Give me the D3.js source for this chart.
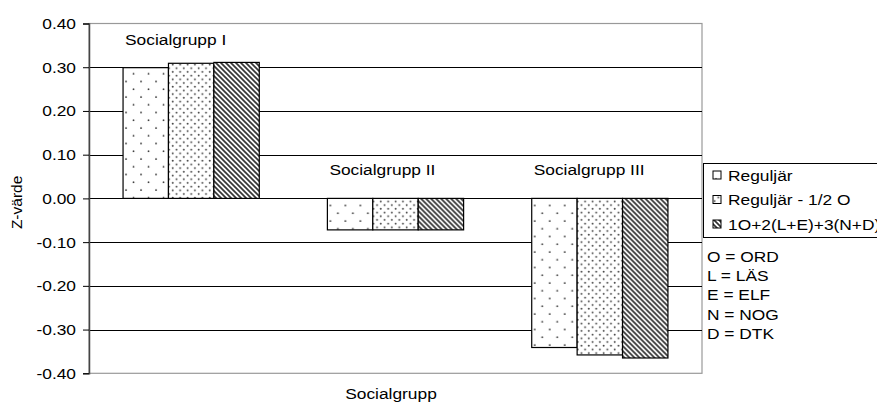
<!DOCTYPE html>
<html>
<head>
<meta charset="utf-8">
<script src="https://cdn.jsdelivr.net/npm/d3@7"></script>
<style>
  body { margin: 0; background: #fff; overflow: hidden; }
  svg { display: block; font-family: "Liberation Sans", Arial, sans-serif; }
</style>
</head>
<body>
<script>
const groups = ["Socialgrupp I", "Socialgrupp II", "Socialgrupp III"];
const series = ["Reguljär", "Reguljär - 1/2 O", "1O+2(L+E)+3(N+D)"];
const regular = [0.299, -0.072, -0.341];
const regularHalfO = [0.309, -0.072, -0.358];
const weighted = [0.311, -0.072, -0.365];
const labelValues = [0.35, 0.053, 0.053];
const yTicks = [0.4, 0.3, 0.2, 0.1, 0, -0.1, -0.2, -0.3, -0.4];
const notes = ["O = ORD", "L = LÄS", "E = ELF", "N = NOG", "D = DTK"];

const W = 877, H = 412;
const plotL = 89, plotR = 702, plotT = 23.5, plotB = 373.3;
const fs = 15.5, sx = 1.12;   // text looks a bit wide in the original
const values = [regular, regularHalfO, weighted];

const svg = d3.select("body").append("svg").attr("width", W).attr("height", H);
const defs = svg.append("defs");

// places a text with the horizontal stretch
let wideText = (sel, x, y) => sel.attr("transform", `translate(${x},${y}) scale(${sx},1)`)
  .attr("font-size", fs);

// fill patterns
let p1 = defs.append("pattern").attr("id", "pat0").attr("patternUnits", "userSpaceOnUse")
  .attr("width", 15).attr("height", 15.5);
p1.append("rect").attr("width", 15).attr("height", 15.5).attr("fill", "#fff");
p1.append("circle").attr("cx", 3).attr("cy", 4).attr("r", 0.9).attr("fill", "#333");
p1.append("circle").attr("cx", 10.5).attr("cy", 11.75).attr("r", 0.9).attr("fill", "#333");

let p2 = defs.append("pattern").attr("id", "pat1").attr("patternUnits", "userSpaceOnUse")
  .attr("width", 7.4).attr("height", 7.4);
p2.append("rect").attr("width", 7.4).attr("height", 7.4).attr("fill", "#fff");
p2.append("circle").attr("cx", 1.6).attr("cy", 1.6).attr("r", 0.95).attr("fill", "#444");
p2.append("circle").attr("cx", 5.3).attr("cy", 5.3).attr("r", 0.95).attr("fill", "#444");

let p3 = defs.append("pattern").attr("id", "pat2").attr("patternUnits", "userSpaceOnUse")
  .attr("width", 5).attr("height", 5);
p3.append("rect").attr("width", 5).attr("height", 5).attr("fill", "#fff");
p3.append("path").attr("d", "M-1,-1L6,6M-1,4L1,6M4,-1L6,1")
  .attr("stroke", "#333").attr("stroke-width", 1.7);

const x0 = d3.scaleBand().domain(groups).range([plotL, plotR]).paddingInner(1/3).paddingOuter(1/6);
const x1 = d3.scaleBand().domain(series).range([0, x0.bandwidth()]);
const y = d3.scaleLinear().domain([-0.4, 0.4]).range([plotB, plotT]);

// plot border
svg.append("rect").attr("x", plotL).attr("y", plotT).attr("width", plotR - plotL).attr("height", plotB - plotT)
  .attr("fill", "none").attr("stroke", "#999").attr("stroke-width", 1.2);

// gridlines
svg.append("g").selectAll("line")
  .data(yTicks.filter(v => Math.abs(v) < 0.35))
  .enter().append("line")
  .attr("x1", plotL).attr("x2", plotR)
  .attr("y1", d => Math.round(y(d)) + 0.5).attr("y2", d => Math.round(y(d)) + 0.5)
  .attr("stroke", "#000").attr("stroke-width", 1);

// y axis
const yAxis = svg.append("g").attr("transform", `translate(${plotL},0)`)
  .call(d3.axisLeft(y).tickValues(yTicks).tickFormat(d3.format(".2f")).tickSize(6).tickPadding(6));
yAxis.select(".domain").attr("stroke", "#444").attr("stroke-width", 1.5);
yAxis.selectAll(".tick line").attr("stroke", "#000");
yAxis.selectAll("text").attr("font-size", fs).attr("fill", "#000")
  .style("font-family", "'Liberation Sans', Arial, sans-serif")
  .attr("x", -11.6)
  .attr("transform", `scale(${sx},1)`)
  .text(d => d3.format(".2f")(d).replace("−", "-"));

// bars
const gGroups = svg.append("g").selectAll("g")
  .data(groups).enter().append("g")
  .attr("transform", d => `translate(${x0(d)},0)`);

gGroups.selectAll("rect")
  .data((g, gi) => series.map((s, si) => ({ s, si, v: values[si][gi] })))
  .enter().append("rect")
  .attr("x", d => x1(d.s))
  .attr("width", x1.bandwidth())
  .attr("y", d => y(Math.max(0, d.v)))
  .attr("height", d => Math.abs(y(d.v) - y(0)))
  .attr("fill", d => `url(#pat${d.si})`)
  .attr("stroke", "#000").attr("stroke-width", 1.2);

// group labels
gGroups.append("text")
  .each(function(d, i) { wideText(d3.select(this), 2, y(labelValues[i])); })
  .text(d => d);

// axis titles
wideText(svg.append("text"), 391, 399).attr("text-anchor", "middle").text("Socialgrupp");
svg.append("text").attr("transform", `translate(22,${y(0) + 4}) rotate(-90)`)
  .attr("text-anchor", "middle").attr("font-size", fs).text("Z-värde");

// legend
const legend = svg.append("g").attr("transform", "translate(703,163)");
legend.append("rect").attr("x", 0.5).attr("y", 0.5).attr("width", 200).attr("height", 74)
  .attr("fill", "#fff").attr("stroke", "#000").attr("stroke-width", 1);
const items = legend.selectAll("g.item").data(series).enter().append("g")
  .attr("transform", (d, i) => `translate(10,${12 + i * 24.5})`);
items.append("rect").attr("x", 0).attr("y", -4).attr("width", 8).attr("height", 8)
  .attr("fill", (d, i) => `url(#pat${i})`).attr("stroke", "#000").attr("stroke-width", 1);
items.append("text").each(function() { wideText(d3.select(this), 15, 5.5); }).text(d => d);

svg.append("g").selectAll("text").data(notes).enter().append("text")
  .each(function(d, i) { wideText(d3.select(this), 707, 262 + i * 19.2); })
  .text(d => d);
</script>
</body>
</html>
